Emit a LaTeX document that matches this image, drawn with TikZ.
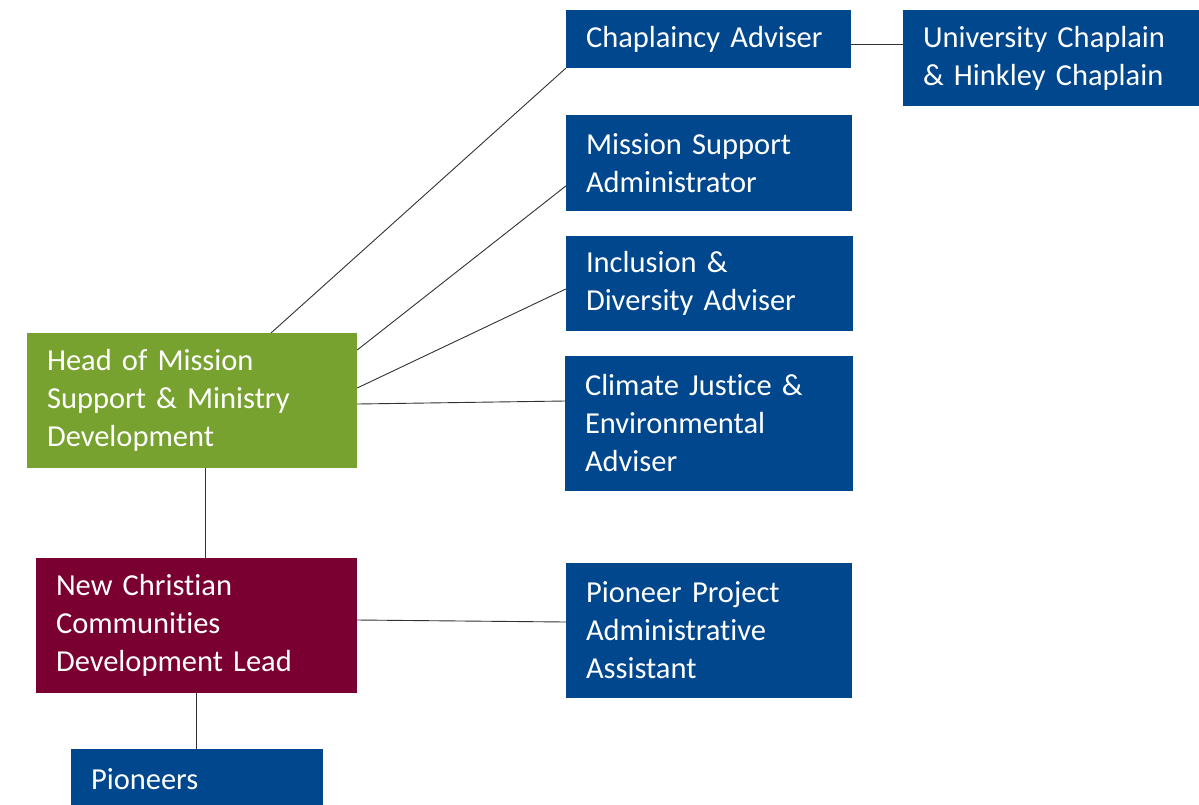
\documentclass[tikz,border=0pt]{standalone}
\usepackage{fontspec}
\setmainfont{Carlito}[WordSpace=0.8, RawFeature=-liga]
\definecolor{orgblue}{RGB}{0,71,141}
\definecolor{orggreen}{RGB}{119,162,47}
\definecolor{orgmaroon}{RGB}{121,0,49}
\definecolor{linegrey}{RGB}{50,50,50}
\tikzset{
  orgbox/.style={draw=none, text=white, inner xsep=20pt, inner ysep=0pt, align=left,
    font=\fontsize{30.5}{38}\selectfont, anchor=center},
  conn/.style={draw=linegrey, line width=0.9pt}
}
\begin{document}
\begin{tikzpicture}[x=1pt,y=-1pt]
\useasboundingbox (0,0) rectangle (1199,804);
\clip (0,0) rectangle (1199,804);
\fill[white] (0,0) rectangle (1199,804);
\node[orgbox, fill=orgblue, text width=245pt, minimum height=58pt] (chap) at (708.5,39) {Chaplaincy Adviser};
\node[orgbox, fill=orgblue, text width=256pt, minimum height=96pt] (univ) at (1051,58) {University Chaplain\\\& Hinkley Chaplain};
\node[orgbox, fill=orgblue, text width=246pt, minimum height=96pt] (msa) at (709,163) {Mission Support\\Administrator};
\node[orgbox, fill=orgblue, text width=247pt, minimum height=95pt] (incl) at (709.5,283.5) {Inclusion \&\\Diversity Adviser};
\node[orgbox, fill=orgblue, text width=248pt, minimum height=135pt] (clim) at (709,423.5) {Climate Justice \&\\Environmental\\Adviser};
\node[orgbox, fill=orggreen, text width=290pt, minimum height=135pt] (head) at (192,400.5) {Head of Mission\\Support \& Ministry\\Development};
\node[orgbox, fill=orgmaroon, text width=281pt, minimum height=135pt] (nccd) at (196.5,625.5) {New Christian\\Communities\\Development Lead};
\node[orgbox, fill=orgblue, text width=246pt, minimum height=135pt] (ppaa) at (709,630.5) {Pioneer Project\\Administrative\\Assistant};
\node[orgbox, fill=orgblue, text width=212pt, minimum height=61pt] (pion) at (197,779.5) {Pioneers};
\draw[conn] ([xshift=-86pt]head.north east) -- (chap.south west);
\draw[conn] ([yshift=50.5pt]head.east) -- ([yshift=-23pt]msa.west);
\draw[conn] ([yshift=12.5pt]head.east) -- ([yshift=-5.5pt]incl.west);
\draw[conn] ([yshift=-3.5pt]head.east) -- ([yshift=22.5pt]clim.west);
\draw[conn] ([yshift=-5pt]chap.east) -- ([yshift=14pt]univ.west);
\draw[conn] ([xshift=13pt]head.south) -- ([xshift=13pt]head.south |- nccd.north);
\draw[conn] ([yshift=5.5pt]nccd.east) -- ([yshift=8.5pt]ppaa.west);
\draw[conn] (nccd.south) -- (nccd.south |- pion.north);
\end{tikzpicture}
\end{document}
